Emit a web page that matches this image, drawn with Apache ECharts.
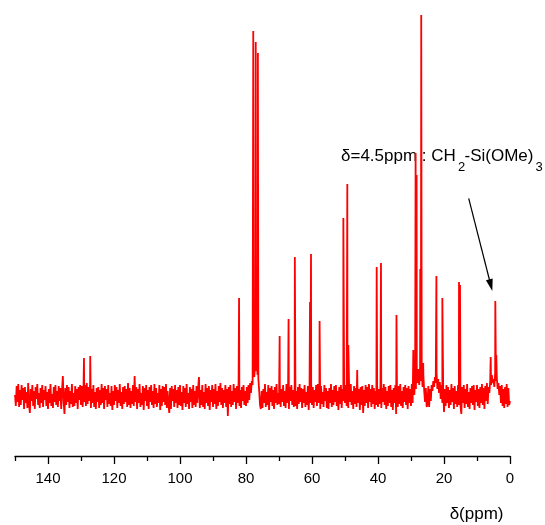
<!DOCTYPE html>
<html>
<head>
<meta charset="utf-8">
<script src="https://cdn.jsdelivr.net/npm/echarts@6/dist/echarts.min.js"></script>
<style>
html,body{margin:0;padding:0;background:#fff;}
#chart{width:545px;height:525px;}
</style>
</head>
<body>
<div id="chart"></div>
<script>
// ---- data ----
const noiseStartPpm = 150;
const noiseStepPpm = 0.25;
const noise = [
  2,-9,11,-5,13,-10,7,-8,12,-3,9,-12,10,-6,5,-11,14,-7,-16,8,
  -4,12,-9,6,-12,10,-2,13,-8,4,-11,9,-6,12,-10,7,-3,11,-9,5,
  -12,8,-6,13,-9,3,-11,10,-5,12,-8,6,-10,11,-4,9,-12,7,21,-6,
  -17,9,-8,12,-5,10,-11,6,-7,13,-10,4,-9,11,-6,8,-12,10,-3,12,
  -8,11,-10,6,-5,12,-9,14,-7,10,-4,13,-11,8,-6,12,-10,5,-12,9,
  -5,10,-11,7,-8,13,-6,9,-12,11,-3,8,-10,12,-7,4,-9,11,-13,6,
  -8,12,-4,10,-11,7,-6,13,-9,5,-12,10,-7,11,-5,8,-10,14,-8,9,
  -11,6,-7,12,-9,21,-5,10,-12,8,-6,13,-10,4,-8,11,-13,9,-4,12,
  -9,7,-12,10,-5,12,-8,6,-11,13,-7,9,-10,4,-6,12,-13,8,-9,11,
  -5,10,-8,13,-11,6,-7,-16,9,-12,11,-4,8,-10,12,-6,7,-11,10,-8,
  12,-9,5,-13,11,-6,9,-10,13,-7,4,-12,10,-5,8,-11,12,-8,6,-10,
  11,-6,9,20,-11,7,-8,12,-10,5,-12,13,-6,9,-9,11,-13,7,-5,12,
  -10,8,-7,13,-12,6,-9,11,-5,14,-8,9,-11,7,-6,12,-10,8,-19,10,
  -7,12,-10,6,-8,13,-5,9,-12,11,-6,14,-9,7,-11,10,-4,12,-8,6,
  -9,10,-6,12,-3,14,4,16,12,24,20,30,26,34,22,18,6,-8,-12,6,
  -11,8,-6,13,-10,5,-8,12,-13,9,-5,11,-9,7,-12,10,-6,13,-8,4,
  -7,11,-10,8,-5,12,-9,6,-11,13,-6,9,-12,10,-4,12,-8,7,-10,11,
  -9,6,-12,10,-7,13,-5,9,-11,8,-6,12,-10,5,-8,11,-13,9,-6,14,
  -8,10,-11,7,-5,12,-9,13,-6,8,-12,11,-7,5,-10,12,-4,9,-11,6,
  -12,9,-6,13,-10,7,-8,11,-5,12,-9,6,-13,10,-7,12,-11,8,-4,11,
  -6,12,-9,8,-11,10,-5,13,-8,6,-12,11,-7,9,-10,12,-6,8,-13,10,
  -8,11,-16,7,-9,12,-6,10,-11,13,-5,8,-10,12,-7,9,-12,6,-8,11,
  -10,8,-7,12,-11,9,-5,13,-8,10,-12,6,-9,11,-6,12,-10,7,-13,9,
  -6,12,-17,9,-10,11,-7,13,-9,6,-11,10,-5,12,-8,9,-12,11,-6,8,
  -9,13,-6,10,2,18,8,24,14,28,12,30,16,26,10,22,6,-5,9,-10,
  -7,11,-10,8,-4,12,6,16,10,20,14,24,8,18,4,15,-2,12,-6,9,
  -15,8,-9,12,-6,10,-11,7,-8,13,-5,9,-12,11,-7,6,-10,12,-8,10,
  -9,-17,10,-6,12,-11,8,-7,13,-10,5,-12,9,-6,11,-8,12,-13,7,-5,
  12,-9,8,-11,10,-6,13,-8,9,-12,11,-4,14,-7,10,4,16,12,22,14,
  18,10,24,16,20,8,14,2,11,-6,12,-9,8,-11,10,-7,13,-10,9,-8,
  -4
];
const peakPpm    = [129.1, 127.2, 82.1, 77.8, 77.05, 76.4, 69.8, 67.1, 65.2, 60.6, 60.3, 57.7, 50.5, 49.3, 49.0, 46.3, 40.4, 39.1, 34.4, 29.3, 28.6, 28.3, 27.2, 26.9, 26.3, 22.3, 20.5, 15.45, 15.15, 5.85, 4.45, 4.15];
const peakHeight = [39,    41,    99,   366,  355,   344,  61,   78,   140,  95,   143,  76,   179,  213,  52,   27,   130,  134,  82,   47,   244,  222,  128,  382,  34,   121,  99,   115,   112,   40,   96,   42];
const majorTicks = [0, 20, 40, 60, 80, 100, 120, 140];
const minorTicks = [10, 30, 50, 70, 90, 110, 130, 150];
const xAxisName = 'δ(ppm)';

// ---- build series ----
const spectrum = [];
noise.forEach((v, i) => spectrum.push([noiseStartPpm - i * noiseStepPpm, v]));
peakPpm.forEach((p, i) => spectrum.push([p, peakHeight[i]]));
spectrum.sort((a, b) => b[0] - a[0]);

const chart = echarts.init(document.getElementById('chart'), null, {renderer: 'canvas'});
const FONT = 'Liberation Sans, Arial, sans-serif';
chart.setOption({
  animation: false,
  backgroundColor: '#ffffff',
  grid: {left: 15, right: 35, top: 7, bottom: 69},
  xAxis: [
    {
      type: 'value', min: 0, max: 150, inverse: true,
      axisLine: {show: true, onZero: false, lineStyle: {color: '#000', width: 1.3}},
      axisTick: {show: true, length: 8, customValues: majorTicks, lineStyle: {color: '#000', width: 1.3}},
      axisLabel: {show: true, customValues: majorTicks, margin: 15, color: '#000', fontSize: 15, fontFamily: FONT},
      splitLine: {show: false}
    },
    {
      type: 'value', min: 0, max: 150, inverse: true, position: 'bottom',
      axisLine: {show: false, onZero: false},
      axisTick: {show: true, length: 5, customValues: minorTicks, lineStyle: {color: '#000', width: 1.3}},
      axisLabel: {show: false},
      splitLine: {show: false}
    }
  ],
  yAxis: {
    type: 'value', min: -59, max: 390, show: false,
    splitLine: {show: false}
  },
  series: [{
    type: 'line',
    xAxisIndex: 0,
    data: spectrum,
    showSymbol: false,
    symbol: 'none',
    lineStyle: {color: '#ff0000', width: 1.8},
    clip: false
  }],
  graphic: [
    {type: 'text', x: 341, y: 156, style: {text: 'δ=4.5ppm : CH', font: '17px ' + FONT, fill: '#000', verticalAlign: 'middle'}},
    {type: 'text', x: 458, y: 167, style: {text: '2', font: '13px ' + FONT, fill: '#000', verticalAlign: 'middle'}},
    {type: 'text', x: 464.5, y: 156, style: {text: '-Si(OMe)', font: '17px ' + FONT, fill: '#000', verticalAlign: 'middle'}},
    {type: 'text', x: 535.5, y: 167, style: {text: '3', font: '13px ' + FONT, fill: '#000', verticalAlign: 'middle'}},
    {type: 'line', shape: {x1: 468.7, y1: 198.3, x2: 489.5, y2: 280}, style: {stroke: '#000', lineWidth: 1.2}},
    {type: 'polygon', shape: {points: [[492.3, 291], [492.7, 278.5], [485.9, 280.3]]}, style: {fill: '#000'}},
    {type: 'text', x: 503.5, y: 514, style: {text: xAxisName, font: '17px ' + FONT, fill: '#000', align: 'right', verticalAlign: 'middle'}}
  ]
});
</script>
</body>
</html>
